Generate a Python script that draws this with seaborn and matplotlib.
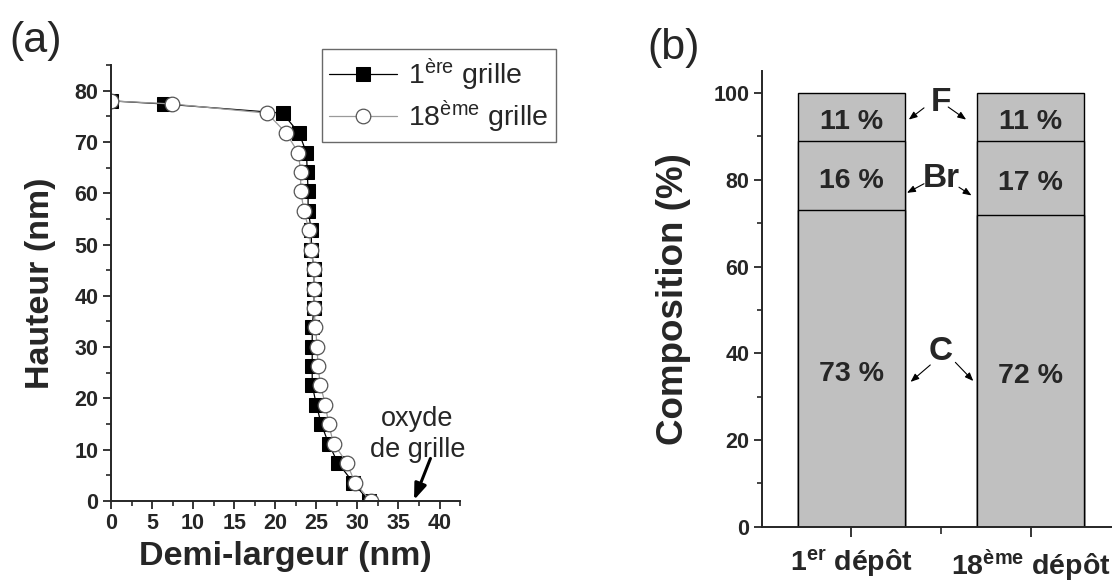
import numpy as np
import pandas as pd
import seaborn as sns
from matplotlib import pyplot as plt
from matplotlib.ticker import MultipleLocator, FixedLocator

# (a) profils : demi-largeur (nm) / hauteur (nm)
GRILLE_1_X = [0, 6.4, 20.9, 22.9, 23.8, 23.9, 24.0, 24.0, 24.4, 24.4, 24.7, 24.7, 24.7,
              24.5, 24.5, 24.5, 24.5, 25.0, 25.6, 26.5, 27.6, 29.5, 31.4]
GRILLE_1_Y = [78.0, 77.4, 75.6, 71.7, 67.9, 64.2, 60.4, 56.6, 52.8, 49.0, 45.2, 41.4, 37.7,
              33.9, 30.1, 26.3, 22.6, 18.8, 15.0, 11.2, 7.5, 3.6, 0.0]
GRILLE_18_X = [0, 7.4, 19.0, 21.3, 22.8, 23.1, 23.1, 23.5, 24.1, 24.4, 24.7, 24.7, 24.7,
               24.9, 25.1, 25.2, 25.5, 26.1, 26.5, 27.1, 28.7, 29.7, 31.6]
GRILLE_18_Y = [78.0, 77.4, 75.6, 71.8, 67.9, 64.2, 60.4, 56.6, 52.8, 49.0, 45.2, 41.4, 37.7,
               33.9, 30.1, 26.3, 22.6, 18.8, 15.0, 11.2, 7.5, 3.6, 0.0]

# (b) composition (%)
DEPOTS = ['1$^{\\mathbf{er}}$ dépôt', '18$^{\\mathbf{ème}}$ dépôt']
ELEMENTS = ['C', 'Br', 'F']
C_PCT = [73, 72]
BR_PCT = [16, 17]
F_PCT = [11, 11]

GRAY = '#c0c0c0'

sns.set_style('ticks')
plt.rcParams['font.family'] = ['Liberation Sans', 'DejaVu Sans']
plt.rcParams['mathtext.fontset'] = 'custom'
plt.rcParams['mathtext.rm'] = 'Liberation Sans'
plt.rcParams['mathtext.bf'] = 'Liberation Sans:bold'
plt.rcParams['mathtext.it'] = 'Liberation Sans:italic'
plt.rcParams['axes.linewidth'] = 1.4


def style_axis(ax):
    sns.despine(ax=ax)
    ax.tick_params(which='major', direction='out', length=6, width=1.3, labelsize=15.5, pad=3)
    ax.tick_params(which='minor', direction='out', length=3.5, width=1.2)
    for lab in ax.get_xticklabels() + ax.get_yticklabels():
        lab.set_fontweight('bold')


def draw_profiles(fig):
    ax = fig.add_axes([0.0998, 0.1377, 0.3139, 0.7505])
    df1 = pd.DataFrame({'x': GRILLE_1_X, 'y': GRILLE_1_Y})
    df18 = pd.DataFrame({'x': GRILLE_18_X, 'y': GRILLE_18_Y})

    sns.lineplot(data=df1, x='x', y='y', sort=False, estimator=None, ax=ax,
                 color='black', lw=0.9, marker='s', markersize=9.5,
                 markerfacecolor='black', markeredgecolor='black',
                 label='1$^{\\mathrm{ère}}$ grille')
    sns.lineplot(data=df18, x='x', y='y', sort=False, estimator=None, ax=ax,
                 color='#9a9a9a', lw=0.9, marker='o', markersize=10.5,
                 markerfacecolor='white', markeredgecolor='#555555', markeredgewidth=0.9,
                 label='18$^{\\mathrm{ème}}$ grille')

    ax.set_xlim(0, 42.5)
    ax.set_ylim(0, 85)
    ax.xaxis.set_major_locator(MultipleLocator(5))
    ax.xaxis.set_minor_locator(MultipleLocator(2.5))
    ax.yaxis.set_major_locator(MultipleLocator(10))
    ax.yaxis.set_minor_locator(MultipleLocator(5))
    ax.set_xlabel('Demi-largeur (nm)', fontsize=24.5, fontweight='bold', labelpad=5)
    ax.set_ylabel('Hauteur (nm)', fontsize=24.5, fontweight='bold', labelpad=13)
    style_axis(ax)

    ax.text(37.3, 13, 'oxyde\nde grille', fontsize=19.5, ha='center', va='center', linespacing=1.25)
    ax.annotate('', xy=(36.9, 0.2), xycoords='data', xytext=(38.9, 8.3), textcoords='data',
                arrowprops=dict(arrowstyle='-|>,head_length=0.8,head_width=0.3',
                                mutation_scale=12, color='black', lw=2.2,
                                shrinkA=0, shrinkB=0))

    leg = ax.legend(loc='upper right', bbox_to_anchor=(0.5, 0.9157),
                    bbox_transform=fig.transFigure, fontsize=20.5, frameon=True,
                    fancybox=False, handlelength=2.4, borderpad=0.25, borderaxespad=0,
                    labelspacing=0.2, handletextpad=0.4)
    leg.get_frame().set_edgecolor('#444444')
    leg.get_frame().set_linewidth(1.0)
    return ax


def draw_composition(fig):
    ax = fig.add_axes([0.685, 0.0935, 0.3225, 0.7835])
    df = pd.DataFrame({'depot': DEPOTS, 'C': C_PCT, 'Br': BR_PCT, 'F': F_PCT})
    df['C+Br'] = df['C'] + df['Br']
    df['total'] = df['C+Br'] + df['F']

    # stacked bars drawn from the top down
    for col in ['total', 'C+Br', 'C']:
        sns.barplot(data=df, x='depot', y=col, ax=ax, color=GRAY, width=0.6,
                    edgecolor='black', linewidth=1.0, saturation=1)

    for i in range(len(DEPOTS)):
        bottom = 0
        for val in [C_PCT[i], BR_PCT[i], F_PCT[i]]:
            ax.text(i, bottom + val / 2 - 1.2, '{} %'.format(val), ha='center', va='center',
                    fontsize=20.5, fontweight='bold')
            bottom += val

    # element names between the bars, arrows to each bar
    name_y = [40.3, 80.3, 97.8]
    arrows = [
        [((0.44, 37.3), (0.33, 33.4)), ((0.58, 37.9), (0.68, 33.6))],
        [((0.405, 79.1), (0.31, 77.0)), ((0.60, 78.3), (0.67, 76.4))],
        [((0.405, 96.6), (0.32, 93.9)), ((0.54, 96.8), (0.64, 93.9))],
    ]
    for name, y, pair in zip(ELEMENTS, name_y, arrows):
        ax.text(0.5, y, name, ha='center', va='center', fontsize=24, fontweight='bold')
        for tail, head in pair:
            ax.annotate('', xy=head, xytext=tail,
                        arrowprops=dict(arrowstyle='-|>,head_length=0.5,head_width=0.2',
                                        color='black', lw=0.8, shrinkA=0, shrinkB=0))

    ax.set_xlim(-0.5, 1.5)
    ax.set_ylim(0, 105)
    ax.yaxis.set_major_locator(MultipleLocator(20))
    ax.yaxis.set_minor_locator(MultipleLocator(10))
    ax.xaxis.set_minor_locator(FixedLocator([0.5]))
    ax.set_xlabel('')
    ax.set_ylabel('Composition (%)', fontsize=26.5, fontweight='bold', labelpad=16)
    style_axis(ax)
    ax.tick_params(axis='x', which='major', length=7, labelsize=20.5, pad=8)
    ax.tick_params(axis='x', which='minor', length=5)
    for lab in ax.get_xticklabels():
        lab.set_fontweight('bold')
    return ax


def main():
    fig = plt.figure(figsize=(11.12, 5.81), dpi=100)
    draw_profiles(fig)
    draw_composition(fig)
    fig.text(0.0324, 0.929, '(a)', fontsize=31, ha='center', va='center')
    fig.text(0.606, 0.917, '(b)', fontsize=31, ha='center', va='center')
    fig.savefig('out.png', dpi=100)


if __name__ == '__main__':
    main()
